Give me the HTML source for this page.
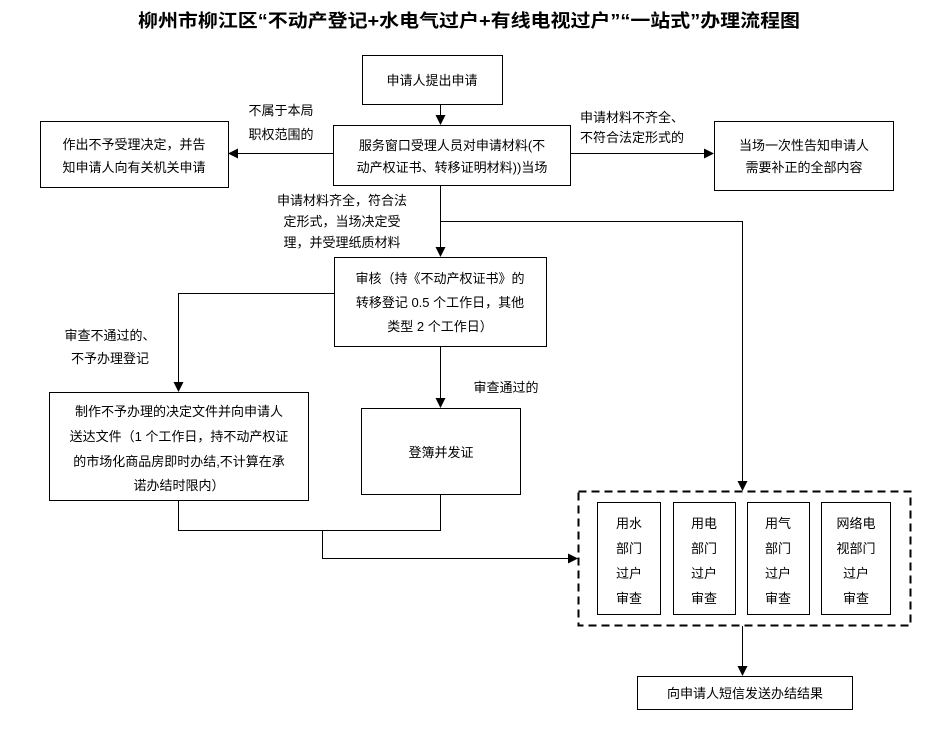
<!DOCTYPE html>
<html><head><meta charset="utf-8"><style>
html,body{margin:0;padding:0;background:#fff;}
svg{display:block;}
text{font-family:"Liberation Sans","Noto Sans CJK SC",sans-serif;font-size:13px;fill:#000;}
.t{font-size:18px;font-weight:bold;}
</style></head><body>
<svg width="943" height="754" viewBox="0 0 943 754" xmlns="http://www.w3.org/2000/svg">
<defs><marker id="a" markerWidth="10" markerHeight="10" refX="9" refY="5" orient="auto" markerUnits="userSpaceOnUse"><path d="M0,0 L10,5 L0,10 z" fill="#000"/></marker></defs>
<text class="t" x="469" y="27" text-anchor="middle" textLength="662" lengthAdjust="spacingAndGlyphs">柳州市柳江区“不动产登记+水电气过户+有线电视过户”“一站式”办理流程图</text>
<g fill="none" stroke="#000" stroke-width="1">
<rect x="362.5" y="55.5" width="140" height="49"/>
<rect x="333.5" y="125.5" width="237" height="60"/>
<rect x="40.5" y="121.5" width="188" height="66"/>
<rect x="714.5" y="121.5" width="179" height="69"/>
<rect x="334.5" y="257.5" width="212" height="89"/>
<rect x="49.5" y="392.5" width="259" height="108"/>
<rect x="361.5" y="408.5" width="159" height="86"/>
<rect x="597.5" y="502.5" width="63" height="112"/>
<rect x="673.5" y="502.5" width="62" height="112"/>
<rect x="747.5" y="502.5" width="62" height="112"/>
<rect x="821.5" y="502.5" width="69" height="112"/>
<rect x="637.5" y="676.5" width="215" height="33"/>
<rect x="578.5" y="491.5" width="332" height="134" stroke-width="2" stroke-dasharray="8,5"/>
<line x1="440.5" y1="104" x2="440.5" y2="124" marker-end="url(#a)"/>
<line x1="333" y1="153.5" x2="229" y2="153.5" marker-end="url(#a)"/>
<line x1="570" y1="153.5" x2="713" y2="153.5" marker-end="url(#a)"/>
<line x1="440.5" y1="186" x2="440.5" y2="256" marker-end="url(#a)"/>
<polyline points="440.5,221.5 742.5,221.5 742.5,490" marker-end="url(#a)"/>
<polyline points="334,293.5 178.5,293.5 178.5,391" marker-end="url(#a)"/>
<line x1="440.5" y1="347" x2="440.5" y2="407" marker-end="url(#a)"/>
<polyline points="178.5,501 178.5,530.5 440.5,530.5 440.5,495"/>
<polyline points="322.5,530.5 322.5,558.5 577,558.5" marker-end="url(#a)"/>
<line x1="742.5" y1="626" x2="742.5" y2="675" marker-end="url(#a)"/>
</g>
<text x="432" y="85" text-anchor="middle">申请人提出申请</text>
<text x="452" y="150" text-anchor="middle">服务窗口受理人员对申请材料(不</text>
<text x="452" y="172" text-anchor="middle">动产权证书、转移证明材料))当场</text>
<text x="134" y="149" text-anchor="middle">作出不予受理决定，并告</text>
<text x="134" y="172" text-anchor="middle">知申请人向有关机关申请</text>
<text x="804" y="150" text-anchor="middle">当场一次性告知申请人</text>
<text x="804" y="172" text-anchor="middle">需要补正的全部内容</text>
<text x="281" y="115" text-anchor="middle">不属于本局</text>
<text x="281" y="139" text-anchor="middle">职权范围的</text>
<text x="632" y="122" text-anchor="middle">申请材料不齐全、</text>
<text x="632" y="142" text-anchor="middle">不符合法定形式的</text>
<text x="342" y="205" text-anchor="middle">申请材料齐全，符合法</text>
<text x="342" y="226" text-anchor="middle">定形式，当场决定受</text>
<text x="342" y="247" text-anchor="middle">理，并受理纸质材料</text>
<text x="440" y="283" text-anchor="middle">审核（持《不动产权证书》的</text>
<text x="440" y="307" text-anchor="middle">转移登记 0.5 个工作日，其他</text>
<text x="440" y="331" text-anchor="middle">类型 2 个工作日）</text>
<text x="110" y="340" text-anchor="middle">审查不通过的、</text>
<text x="110" y="363" text-anchor="middle">不予办理登记</text>
<text x="506" y="392" text-anchor="middle">审查通过的</text>
<text x="179" y="416" text-anchor="middle">制作不予办理的决定文件并向申请人</text>
<text x="179" y="441" text-anchor="middle">送达文件（1 个工作日，持不动产权证</text>
<text x="179" y="466" text-anchor="middle">的市场化商品房即时办结,不计算在承</text>
<text x="179" y="490" text-anchor="middle">诺办结时限内）</text>
<text x="441" y="457" text-anchor="middle">登簿并发证</text>
<g text-anchor="middle">
<text x="629" y="528">用水</text><text x="629" y="553">部门</text><text x="629" y="578">过户</text><text x="629" y="603">审查</text>
<text x="704" y="528">用电</text><text x="704" y="553">部门</text><text x="704" y="578">过户</text><text x="704" y="603">审查</text>
<text x="778" y="528">用气</text><text x="778" y="553">部门</text><text x="778" y="578">过户</text><text x="778" y="603">审查</text>
<text x="856" y="528">网络电</text><text x="856" y="553">视部门</text><text x="856" y="578">过户</text><text x="856" y="603">审查</text>
</g>
<text x="745" y="698" text-anchor="middle">向申请人短信发送办结结果</text>
</svg>
</body></html>
